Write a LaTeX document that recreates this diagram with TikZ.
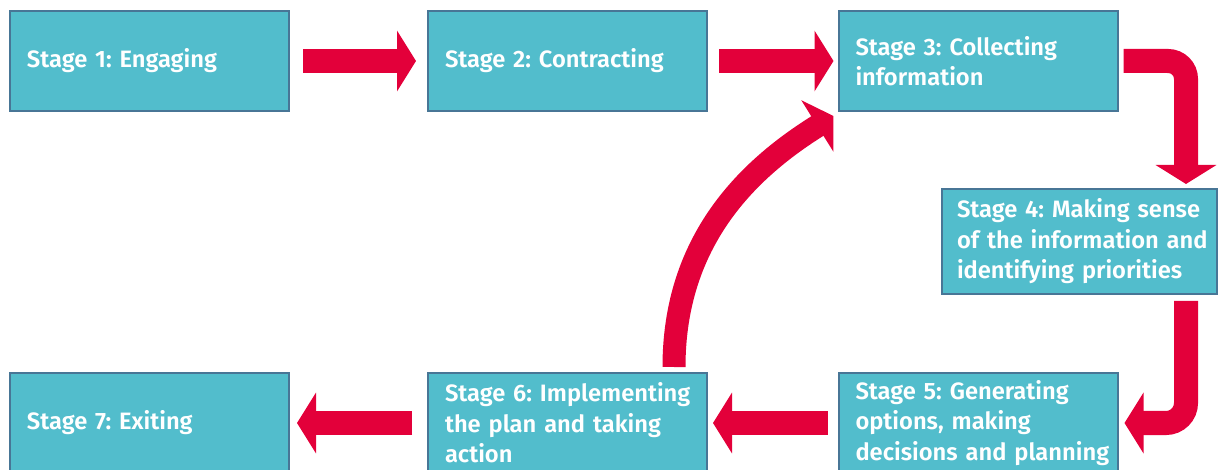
\documentclass[tikz,border=0pt]{standalone}
\usepackage{fontspec}
\setmainfont{Fira Sans}[BoldFont={Fira Sans SemiBold}]
\frenchspacing
\usetikzlibrary{arrows.meta}
\definecolor{boxfill}{RGB}{82,189,204}
\definecolor{boxline}{RGB}{72,118,150}
\definecolor{arrowred}{RGB}{227,0,58}
\begin{document}
\begin{tikzpicture}[x=1pt,y=-1pt,
  stagebox/.style={draw=boxline, line width=2pt, fill=boxfill, text=white,
    font=\bfseries\fontsize{23.7}{30.5}\selectfont, align=left,
    text width=267pt, inner xsep=6pt, inner ysep=0pt, minimum height=100pt,
    execute at begin node={\leftskip=11pt\rightskip=-40pt plus 1fil\hyphenpenalty=10000\relax}},
  bigarrow/.style={draw=arrowred, line width=24pt,
    -{Triangle[length=19pt,width=60pt]}}]
\useasboundingbox (0,0) rectangle (1219,470);
\clip (0,0) rectangle (1219,470);
\node[stagebox] (b1) at (149.5,61) {Stage 1: Engaging};
\node[stagebox] (b2) at (567.5,61) {Stage 2: Contracting};
\node[stagebox] (b3) at (978,61) {Stage 3: Collecting\\information};
\node[stagebox, text width=263pt, minimum height=105pt,
  execute at begin node={\leftskip=9pt\rightskip=-40pt plus 1fil\hyphenpenalty=10000\relax}] (b4) at (1079.5,241.5)
  {Stage 4: Making sense\\of the information and\\identifying priorities};
\node[stagebox] (b5) at (978,423) {Stage 5: Generating\\options, making\\decisions and planning};
\node[stagebox] (b6) at (567.5,423) {Stage 6: Implementing\\the plan and taking\\action};
\node[stagebox] (b7) at (149.5,423) {Stage 7: Exiting};
\draw[bigarrow, shorten <=13pt, shorten >=11pt] (b1.east) -- (b2.west);
\draw[bigarrow, shorten <=11pt, shorten >=4pt] (b2.east) -- (b3.west);
\draw[bigarrow, rounded corners=18pt] ([xshift=5pt]b3.east) -| ([xshift=106.5pt,yshift=4pt]b4.north);
\draw[bigarrow, rounded corners=20pt] ([xshift=106.5pt,yshift=-6pt]b4.south) |- ([xshift=6pt]b5.east);
\draw[bigarrow, shorten <=10pt, shorten >=5pt] (b5.west) -- (b6.east);
\draw[bigarrow, shorten <=15pt, shorten >=7pt] (b6.west) -- (b7.east);
\draw[bigarrow, line width=23pt] ([xshift=106.5pt,yshift=5pt]b6.north)
  .. controls +(0,-127) and +(-85,53) .. ([xshift=-4pt,yshift=-4pt]b3.south west);
\end{tikzpicture}
\end{document}
